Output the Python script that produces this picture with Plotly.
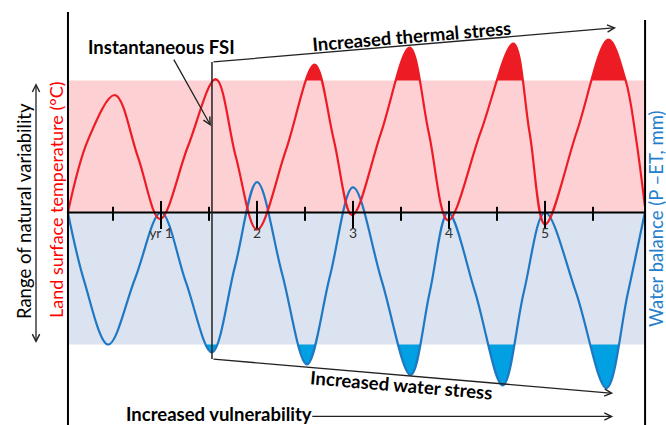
import plotly.graph_objects as go

# Time in years; anomalies scaled so the range of natural variability spans -1..1
red_t = [0.03, 0.24, 0.52, 0.76, 0.99, 1.28, 1.57, 1.78, 2.00, 2.30,
         2.60, 2.80, 2.99, 3.29, 3.59, 3.79, 3.99, 4.33, 4.67, 4.84,
         5.00, 5.33, 5.66, 5.84, 5.94, 6.04]
red_v = [0.00, 0.55, 0.89, 0.42, -0.05, 0.50, 1.01, 0.42, -0.13, 0.47,
         1.12, 0.55, -0.02, 0.60, 1.25, 0.60, -0.06, 0.61, 1.28, 0.60,
         -0.09, 0.61, 1.31, 1.00, 0.60, 0.05]

blue_t = [0.03, 0.20, 0.45, 0.73, 1.00, 1.26, 1.53, 1.77, 2.00, 2.26,
          2.52, 2.76, 3.00, 3.30, 3.60, 3.80, 3.99, 4.27, 4.56, 4.78,
          5.00, 5.32, 5.64, 5.86, 6.04]
blue_v = [0.00, -0.52, -1.00, -0.50, 0.00, -0.53, -1.06, -0.41, 0.23, -0.46,
          -1.15, -0.48, 0.19, -0.52, -1.23, -0.60, 0.00, -0.60, -1.31, -0.60,
          0.00, -0.60, -1.33, -0.62, 0.00]

year_ticks = [1, 2, 3, 4, 5]
year_labels = ["yr 1", "2", "3", "4", "5"]
half_year_ticks = [0.5, 1.5, 2.5, 3.5, 4.5, 5.5]

band = 1.0                 # natural variability limit
t_start, t_end = 0.031, 6.042
fsi_t = 1.531              # instantaneous FSI marker

RED = "#ed1c24"
BLUE_LINE = "#1f78c3"
BLUE_FILL = "#00a0e2"
PINK = "#fdd0d4"
LIGHT_BLUE = "#dbe3f0"
FONT = "Lato"

fig = go.Figure()

# Stress fills (only the parts outside the band stay visible)
fig.add_trace(go.Scatter(x=red_t, y=red_v, mode="lines", line=dict(width=0, shape="spline", color=RED),
                         fill="tozeroy", fillcolor=RED, hoverinfo="skip"))
fig.add_trace(go.Scatter(x=blue_t, y=blue_v, mode="lines", line=dict(width=0, shape="spline", color=BLUE_FILL),
                         fill="tozeroy", fillcolor=BLUE_FILL, hoverinfo="skip"))

# Range of natural variability
fig.add_trace(go.Scatter(x=[t_start, t_end, t_end, t_start, t_start], y=[0, 0, band, band, 0],
                         mode="lines", line=dict(width=0), fill="toself", fillcolor=PINK, hoverinfo="skip"))
fig.add_trace(go.Scatter(x=[t_start, t_end, t_end, t_start, t_start], y=[0, 0, -band, -band, 0],
                         mode="lines", line=dict(width=0), fill="toself", fillcolor=LIGHT_BLUE, hoverinfo="skip"))

# Water balance and land surface temperature
fig.add_trace(go.Scatter(x=blue_t, y=blue_v, mode="lines", line=dict(width=2.2, shape="spline", color=BLUE_LINE)))
fig.add_trace(go.Scatter(x=red_t, y=red_v, mode="lines", line=dict(width=2.2, shape="spline", color=RED)))

# Tick marks crossing the time axis
fig.add_trace(go.Scatter(x=year_ticks, y=[-0.018] * len(year_ticks), mode="markers",
                         marker=dict(symbol="line-ns", size=20, line=dict(width=2, color="black"))))
fig.add_trace(go.Scatter(x=half_year_ticks, y=[-0.01] * len(half_year_ticks), mode="markers",
                         marker=dict(symbol="line-ns", size=10, line=dict(width=2, color="black"))))

shapes = [
    dict(type="line", x0=t_start, x1=t_start, y0=1.519, y1=-1.61, line=dict(color="black", width=2)),
    dict(type="line", x0=t_end, x1=t_end, y0=1.458, y1=-1.61, line=dict(color="black", width=2)),
    dict(type="line", x0=t_start, x1=t_end, y0=0, y1=0, line=dict(color="black", width=2)),
    dict(type="line", x0=fsi_t, x1=fsi_t, y0=1.14, y1=-1.11, line=dict(color="#222", width=1.5)),
]


def arrow(x, y, ax, ay, both=False):
    return dict(x=x, y=y, ax=ax, ay=ay, xref="x", yref="y", axref="x", ayref="y", text="",
                showarrow=True, arrowhead=5, startarrowhead=5, arrowsize=1.1, arrowwidth=1.3,
                arrowcolor="#222", arrowside="end+start" if both else "end", standoff=0, startstandoff=0)


def label(text, x, y, size=18.5, color="black", angle=0, bold=True):
    return dict(x=x, y=y, xref="x", yref="y", text=f"<b>{text}</b>" if bold else text, showarrow=False,
                textangle=angle, font=dict(family=FONT, size=size, color=color))


annotations = [
    label("Instantaneous FSI", 1.0, 1.254),
    arrow(1.52, 0.655, 1.125, 1.17),
    arrow(5.74, 1.40, fsi_t, 1.14),
    arrow(5.71, -1.37, fsi_t, -1.11),
    label("Increased thermal stress", 3.61, 1.337, angle=-4.8),
    label("Increased water stress", 3.51, -1.31, angle=4.8),
    label("Increased vulnerability", 1.60, -1.53),
    arrow(5.71, -1.545, 2.56, -1.545),
    arrow(-0.302, 0.98, -0.302, -1.0, both=True),
    label("Range of natural variability", -0.427, 0.011, size=18.5, angle=-90, bold=False),
    label("Land surface temperature (°C)", -0.094, 0.095, size=18, color="#ff0000", angle=-90, bold=False),
    label("Water balance (P –ET, mm)", 6.156, -0.049, size=18.5, color="#2480cc", angle=-90, bold=False),
]

fig.update_layout(
    width=666, height=425, margin=dict(l=0, r=0, t=0, b=0),
    paper_bgcolor="white", plot_bgcolor="white", showlegend=False,
    shapes=shapes, annotations=annotations,
    xaxis=dict(range=[-0.677, 6.26], showgrid=False, zeroline=False, showline=False,
               anchor="free", position=0.5, tickmode="array", tickvals=year_ticks, ticktext=year_labels,
               ticks="outside", ticklen=8, tickcolor="rgba(0,0,0,0)",
               tickfont=dict(family=FONT, size=14, color="#333")),
    yaxis=dict(range=[-1.61, 1.61], visible=False),
)

fig.write_html("out.html")
